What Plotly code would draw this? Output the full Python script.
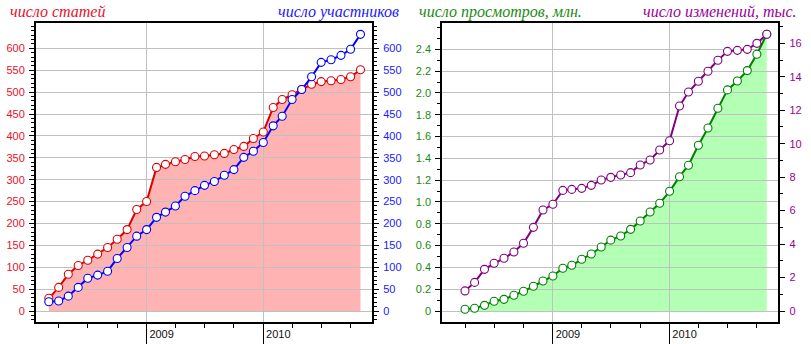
import pandas as pd
import plotly.graph_objects as go

# Monthly statistics
months_a = pd.date_range("2008-03-01", "2010-11-01", freq="MS")
articles = [29, 54, 84, 104, 116, 130, 145, 164, 186, 232,
            250, 328, 335, 341, 346, 353, 354, 357, 360, 369, 376, 394,
            409, 465, 483, 494, 506, 518, 524, 526, 529, 535, 551]
members = [21, 23, 34, 54, 75, 82, 91, 120, 145, 171,
           186, 214, 226, 240, 262, 275, 287, 296, 310, 323, 351, 365,
           385, 423, 445, 483, 506, 535, 568, 574, 584, 598, 632]

months_b = pd.date_range("2008-04-01", "2010-11-01", freq="MS")
views_mln = [0.016, 0.025, 0.052, 0.089, 0.107, 0.144, 0.181, 0.227, 0.275,
             0.321, 0.392, 0.419, 0.474, 0.523, 0.587, 0.650, 0.688, 0.749, 0.826, 0.908, 0.988,
             1.098, 1.232, 1.337, 1.520, 1.679, 1.860, 2.028, 2.110, 2.205, 2.355, 2.538]
edits_k = [1.20, 1.71, 2.49, 2.85, 3.15, 3.53, 4.05, 5.00, 6.04,
           6.38, 7.21, 7.27, 7.33, 7.51, 7.83, 7.99, 8.13, 8.27, 8.73, 9.03, 9.62,
           10.18, 12.25, 13.09, 13.73, 14.33, 14.99, 15.52, 15.58, 15.64, 16.00, 16.54]

year_ticks = ["2009-01-01", "2010-01-01"]
year_labels = ["2009", "2010"]
count_ticks = list(range(0, 601, 50))
views_ticks = [0, 0.2, 0.4, 0.6, 0.8, 1.0, 1.2, 1.4, 1.6, 1.8, 2.0, 2.2, 2.4]
views_labels = ["0", "0.2", "0.4", "0.6", "0.8", "1.0", "1.2", "1.4",
                "1.6", "1.8", "2.0", "2.2", "2.4"]
edits_ticks = list(range(0, 17, 2))

W, H = 811, 344
X_RANGE = ["2008-01-21", "2010-12-07"]
DOM_L = [36 / W, 372 / W]
DOM_R = [442.3 / W, 778.3 / W]
DOM_Y = [22.3 / H, 321 / H]

RED, BLUE, GREEN, PURPLE = "#dd0000", "#0000ff", "#008000", "#800080"
GRID = "#c0c0c0"
TICKFONT = "Liberation Sans, Arial, sans-serif"

fig = go.Figure()


def line_trace(x, y, color, xa, ya):
    return go.Scatter(
        x=x, y=y, mode="lines+markers", xaxis=xa, yaxis=ya,
        line=dict(color=color, width=2),
        marker=dict(symbol="circle", size=8, color="white",
                    line=dict(color=color, width=1.1)),
        showlegend=False, hoverinfo="x+y",
    )


def area_trace(x, y, fill, xa, ya):
    return go.Scatter(
        x=x, y=y, mode="lines", fill="tozeroy", fillcolor=fill,
        line=dict(width=0), xaxis=xa, yaxis=ya,
        showlegend=False, hoverinfo="skip",
    )


# areas sit on their own hidden axes so the grid is painted over them
fig.add_trace(area_trace(months_a, articles, "#ffb3b3", "x", "y"))
fig.add_trace(area_trace(months_b, views_mln, "#b3ffb3", "x3", "y4"))

fig.add_trace(line_trace(months_a, articles, RED, "x2", "y2"))
fig.add_trace(line_trace(months_a, members, BLUE, "x2", "y3"))
fig.add_trace(line_trace(months_b, views_mln, GREEN, "x4", "y5"))
fig.add_trace(line_trace(months_b, edits_k, PURPLE, "x4", "y6"))

RANGE_A = [-24.4, 657.9]
RANGE_V = [-0.0981, 2.6415]
RANGE_E = [-0.6396, 17.215]


def hidden_x(dom, anchor):
    return dict(type="date", domain=dom, range=X_RANGE, visible=False, anchor=anchor)


def hidden_y(rng, anchor):
    return dict(domain=DOM_Y, range=rng, visible=False, anchor=anchor)


def date_axis(dom, anchor):
    return dict(
        type="date", domain=dom, range=X_RANGE, anchor=anchor,
        tickmode="array", tickvals=year_ticks, ticktext=year_labels,
        ticks="outside", ticklen=22, tickwidth=1, tickcolor="black",
        ticklabelshift=15, ticklabelstandoff=-21,
        tickfont=dict(family=TICKFONT, size=11, color="#111111"),
        showline=True, linecolor="black", linewidth=2, mirror=True,
        showgrid=True, gridcolor=GRID, gridwidth=1, zeroline=False,
        minor=dict(dtick="M3", tick0="2008-01-01", ticks="outside", ticklen=4,
                   tickcolor="black", tickwidth=1, showgrid=False),
        fixedrange=True,
    )


def value_axis(rng, vals, labels, minor, color, anchor, side="left", overlay=None, grid=True):
    d = dict(
        domain=DOM_Y, range=rng, anchor=anchor, side=side,
        tickmode="array", tickvals=vals, ticktext=labels,
        ticks="outside", ticklen=5, tickwidth=1, tickcolor="black",
        ticklabelstandoff=2,
        tickfont=dict(family=TICKFONT, size=11, color=color),
        showline=True, linecolor="black", linewidth=2,
        showgrid=grid, gridcolor=GRID, gridwidth=1, zeroline=False,
        minor=dict(dtick=minor, tick0=0, ticks="outside", ticklen=3,
                   tickcolor="black", tickwidth=1, showgrid=False),
        fixedrange=True,
    )
    if overlay:
        d["overlaying"] = overlay
    return d


count_labels = [str(v) for v in count_ticks]
edits_labels = [str(v) for v in edits_ticks]

fig.update_layout(
    width=W, height=H,
    margin=dict(l=0, r=0, t=0, b=0),
    paper_bgcolor="white", plot_bgcolor="rgba(0,0,0,0)",
    showlegend=False,
    xaxis=hidden_x(DOM_L, "y"),
    yaxis=hidden_y(RANGE_A, "x"),
    xaxis2=date_axis(DOM_L, "y2"),
    yaxis2=value_axis(RANGE_A, count_ticks, count_labels, 10, "#e8102a", "x2"),
    yaxis3=value_axis(RANGE_A, count_ticks, count_labels, 10, "#2020ff", "x2",
                      side="right", overlay="y2", grid=False),
    xaxis3=hidden_x(DOM_R, "y4"),
    yaxis4=hidden_y(RANGE_V, "x3"),
    xaxis4=date_axis(DOM_R, "y5"),
    yaxis5=value_axis(RANGE_V, views_ticks, views_labels, 0.1, "#1a8a10", "x4"),
    yaxis6=value_axis(RANGE_E, edits_ticks, edits_labels, 1, "#9a009a", "x4",
                      side="right", overlay="y5", grid=False),
)

TITLE_FONT = "Liberation Serif, Times New Roman, serif"
titles = [
    ("число статей", 8, "left", "#e8102a"),
    ("число участников", 401, "right", "#2020ff"),
    ("число просмотров, млн.", 417, "left", "#1a8a10"),
    ("число изменений, тыс.", 799, "right", "#9a009a"),
]
for text, px, anchor, color in titles:
    fig.add_annotation(
        text=f"<i>{text}</i>", xref="paper", yref="paper",
        x=px / W, y=1 - 12 / H, xanchor=anchor, yanchor="middle",
        showarrow=False, font=dict(family=TITLE_FONT, size=16, color=color),
    )

fig.write_html("out.html", config={"displayModeBar": False})
